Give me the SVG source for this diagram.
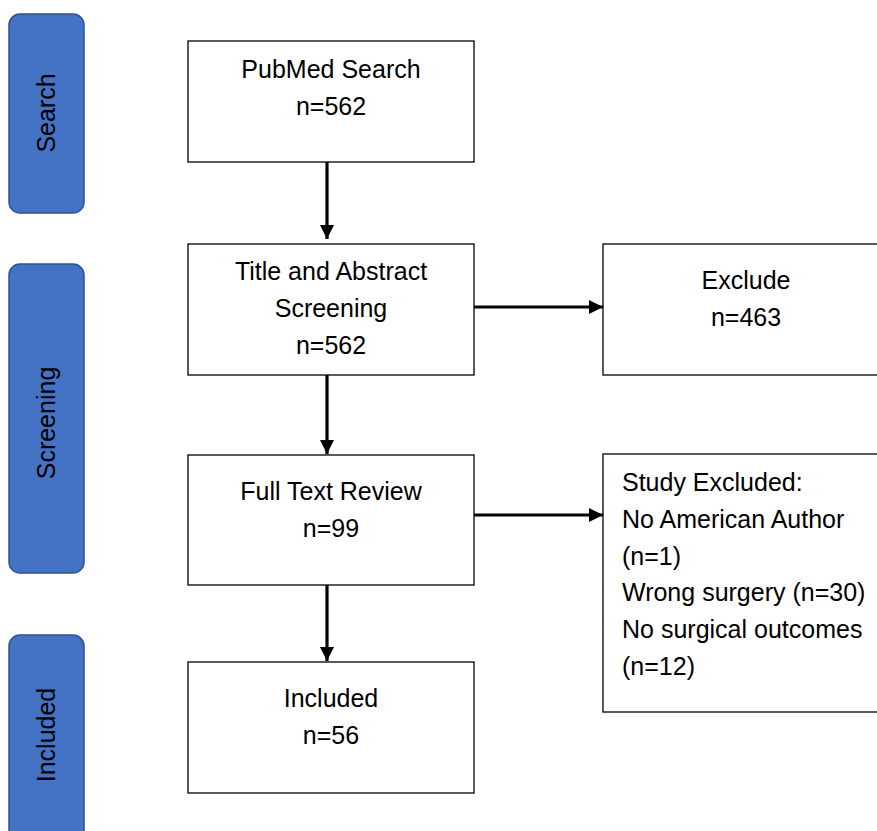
<svg xmlns="http://www.w3.org/2000/svg" width="877" height="831" viewBox="0 0 877 831">
<style>
.pill{fill:#4472C4;stroke:#2F528F;stroke-width:1.5}
.box{fill:#fff;stroke:#000;stroke-width:1.3}
text{font-family:"Liberation Sans",Arial,sans-serif;font-size:25px;fill:#000}
.c{text-anchor:middle}
.conn line{stroke:#000;stroke-width:3.2}
</style>
<defs>
<marker id="ah" markerWidth="14" markerHeight="14" refX="14" refY="7" orient="auto" markerUnits="userSpaceOnUse">
<path d="M0,0 L14,7 L0,14 Z" fill="#000"/>
</marker>
</defs>
<rect width="877" height="831" fill="#fff"/>
<g id="stage-search"><rect class="pill" x="9" y="14" width="75" height="199" rx="11"/><text class="c" transform="translate(55,113) rotate(-90)">Search</text></g>
<g id="stage-screening"><rect class="pill" x="9" y="264" width="75" height="309" rx="11"/><text class="c" transform="translate(55,423) rotate(-90)">Screening</text></g>
<g id="stage-included"><rect class="pill" x="9" y="635" width="75" height="210" rx="11"/><text class="c" transform="translate(55,735) rotate(-90)">Included</text></g>
<g id="pubmed"><rect class="box" x="188" y="41" width="286" height="121"/><text class="c" x="331" y="78">PubMed Search</text><text class="c" x="331" y="115">n=562</text></g>
<g id="screening"><rect class="box" x="188" y="244" width="286" height="131"/><text class="c" x="331" y="280">Title and Abstract</text><text class="c" x="331" y="317">Screening</text><text class="c" x="331" y="354">n=562</text></g>
<g id="exclude"><rect class="box" x="603" y="244" width="290" height="131"/><text class="c" x="746" y="289">Exclude</text><text class="c" x="746" y="326">n=463</text></g>
<g id="fulltext"><rect class="box" x="188" y="455" width="286" height="130"/><text class="c" x="331" y="500">Full Text Review</text><text class="c" x="331" y="537">n=99</text></g>
<g id="study-excluded"><rect class="box" x="603" y="454" width="290" height="258"/>
<text x="622" y="491">Study Excluded:</text><text x="622" y="528">No American Author</text><text x="622" y="565">(n=1)</text><text x="622" y="601">Wrong surgery (n=30)</text><text x="622" y="638">No surgical outcomes</text><text x="622" y="675">(n=12)</text></g>
<g id="included"><rect class="box" x="188" y="662" width="286" height="131"/><text class="c" x="331" y="707">Included</text><text class="c" x="331" y="744">n=56</text></g>
<g class="conn" id="connectors">
<line x1="327" y1="162" x2="327" y2="239" marker-end="url(#ah)"/>
<line x1="327" y1="375" x2="327" y2="454" marker-end="url(#ah)"/>
<line x1="327" y1="585" x2="327" y2="661" marker-end="url(#ah)"/>
<line x1="474" y1="307" x2="603" y2="307" marker-end="url(#ah)"/>
<line x1="474" y1="515" x2="603" y2="515" marker-end="url(#ah)"/>
</g>
</svg>
